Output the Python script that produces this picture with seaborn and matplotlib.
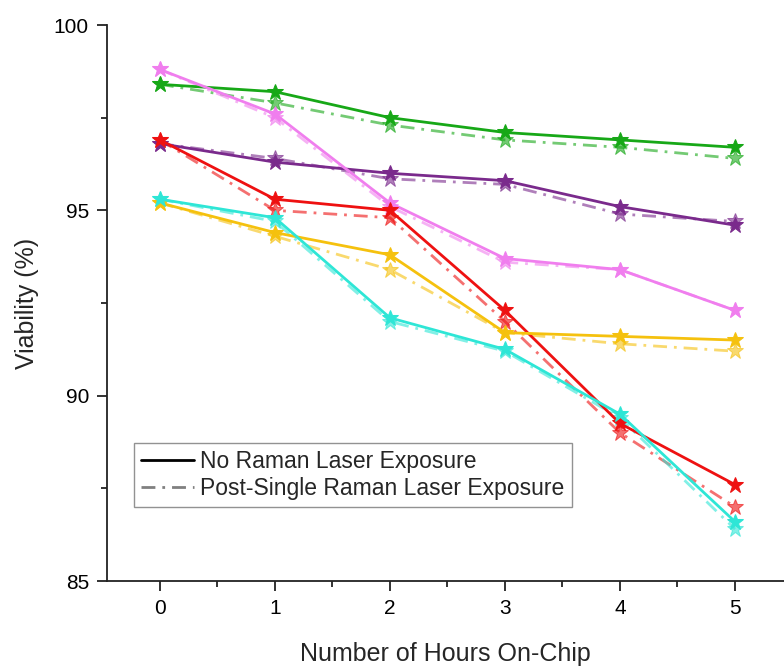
import matplotlib
matplotlib.use("Agg")
import matplotlib.pyplot as plt
import seaborn as sns
import pandas as pd
from matplotlib.lines import Line2D
from matplotlib.ticker import MultipleLocator

sns.set_theme(style="ticks")
plt.rcParams['font.family'] = ['Liberation Sans', 'DejaVu Sans']

hours = [0, 1, 2, 3, 4, 5]

green_none = [98.4, 98.2, 97.5, 97.1, 96.9, 96.7]
green_post = [98.4, 97.9, 97.3, 96.9, 96.7, 96.4]
purple_none = [96.8, 96.3, 96.0, 95.8, 95.1, 94.6]
purple_post = [96.8, 96.4, 95.85, 95.7, 94.9, 94.7]
violet_none = [98.8, 97.6, 95.2, 93.7, 93.4, 92.3]
violet_post = [98.8, 97.5, 95.1, 93.6, 93.4, 92.3]
red_none = [96.9, 95.3, 95.0, 92.3, 89.25, 87.6]
red_post = [96.9, 95.0, 94.8, 92.0, 89.0, 87.0]
gold_none = [95.2, 94.4, 93.8, 91.7, 91.6, 91.5]
gold_post = [95.2, 94.3, 93.4, 91.7, 91.4, 91.2]
cyan_none = [95.3, 94.8, 92.1, 91.25, 89.5, 86.6]
cyan_post = [95.3, 94.7, 92.0, 91.2, 89.4, 86.4]

series = [
    ("#17A817", green_none, green_post),
    ("#7A2A8C", purple_none, purple_post),
    ("#F07EEE", violet_none, violet_post),
    ("#EE1111", red_none, red_post),
    ("#F5C10E", gold_none, gold_post),
    ("#2EE6D6", cyan_none, cyan_post),
]

legend_labels = ["No Raman Laser Exposure", "Post-Single Raman Laser Exposure"]

fig = plt.figure(figsize=(7.84, 6.66), dpi=100)
ax = fig.add_axes([107/784, 85/666, 1 - 107/784, (581-25)/666])

dash = (5, 2.5, 1, 2.5)
for color, none_vals, post_vals in series:
    sns.lineplot(x=hours, y=post_vals, ax=ax, color=color, alpha=0.6,
                 marker='*', markersize=12, markeredgecolor=color,
                 linewidth=2.0, dashes=False, linestyle=(0, dash))
for color, none_vals, post_vals in series:
    sns.lineplot(x=hours, y=none_vals, ax=ax, color=color, alpha=1.0,
                 marker='*', markersize=12, markeredgecolor=color,
                 linewidth=2.0)

ax.set_xlim(-0.46, 5.426)
ax.set_ylim(85, 100)
ax.xaxis.set_major_locator(MultipleLocator(1))
ax.xaxis.set_minor_locator(MultipleLocator(0.5))
ax.yaxis.set_major_locator(MultipleLocator(5))
ax.yaxis.set_minor_locator(MultipleLocator(2.5))
ax.tick_params(which='major', direction='out', length=7, width=1.3, colors='#222222', labelsize=15, labelcolor='black', pad=6)
ax.tick_params(which='minor', direction='out', length=4, width=1.3, colors='#222222')
for s in ['top', 'right']:
    ax.spines[s].set_visible(False)
for s in ['left', 'bottom']:
    ax.spines[s].set_linewidth(1.3)
    ax.spines[s].set_color('#222222')

ax.set_xlabel("Number of Hours On-Chip", fontsize=18, labelpad=17)
ax.set_ylabel("Viability (%)", fontsize=18, labelpad=11)

handles = [Line2D([0], [0], color='black', lw=2),
           Line2D([0], [0], color='gray', lw=2, linestyle=(0, dash))]
leg = ax.legend(handles, legend_labels, loc='upper left', bbox_to_anchor=((134-107)/677, (581-443)/556),
                frameon=True, fancybox=False, fontsize=16.5, handlelength=2.3, handletextpad=0.3,
                borderpad=0.3, labelspacing=0.2, borderaxespad=0)
leg.get_frame().set_edgecolor('#777777')
leg.get_frame().set_linewidth(1.0)

fig.savefig("out.png", dpi=100)
